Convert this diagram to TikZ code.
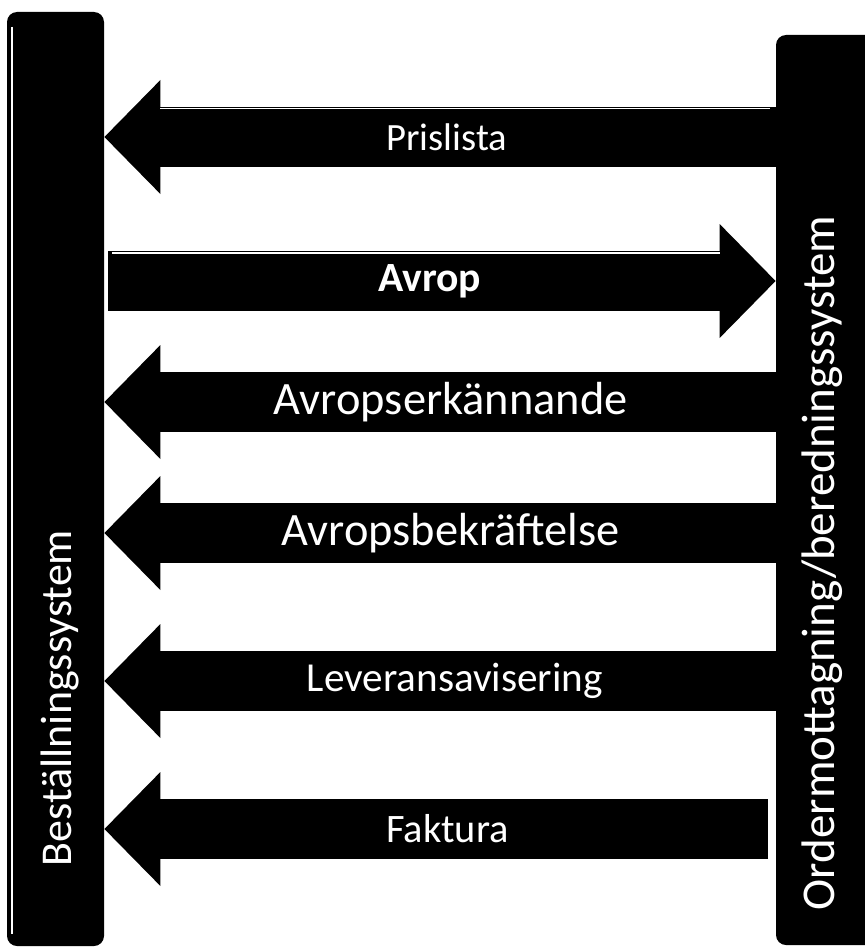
\documentclass[tikz,border=0pt]{standalone}
\usepackage{fontspec}
\setmainfont{Carlito}
\usetikzlibrary{arrows.meta}
\tikzset{
  sysbar/.style={fill=black, rounded corners=5pt, inner sep=0pt},
  systext/.style={text=white, font=\fontsize{22}{24}\selectfont, inner sep=0pt, rotate=90},
  msgarrow/.style={line width=30pt, -{Triangle[length=28pt, width=57pt, line width=0pt]}},
  msgtext/.style={text=white, font=\fontsize{20}{22}\selectfont, inner sep=0pt},
  bigtext/.style={msgtext, font=\fontsize{23.2}{26}\selectfont},
}
\begin{document}
\begin{tikzpicture}[x=0.5pt, y=-0.5pt]
        \useasboundingbox (0,0) rectangle (864,947);

        %systems
        \node[sysbar, minimum width=48.5pt, minimum height=467pt] (best) at (55.5,479) {};
        \node[sysbar, minimum width=52pt, minimum height=455pt] (order) at (828,490) {};
        \draw[white, line width=0.6pt] (12,27) -- (12,934);
        \node[systext] (bestname) at (60,698) {Beställningssystem};
        \node[systext, font=\fontsize{23.5}{26}\selectfont] (ordername) at (822,563) {Ordermottagning/beredningssystem};

        %free ends
        \coordinate (avropstart) at (108,281);
        \coordinate (faktstart) at (768,829);

        %messages
        \draw[msgarrow] (order.west |- 0,137) -- node[msgtext, pos=.49, font=\fontsize{19.3}{22}\selectfont] (prislista) {Prislista} (best.east |- 0,137);
        \draw[msgarrow] (avropstart) -- node[msgtext, pos=.482, font=\fontsize{20.8}{24}\selectfont\bfseries] (avrop) {Avrop} (order.west |- avropstart);
        \draw[msgarrow] (order.west |- 0,402) -- node[bigtext, pos=.484] (erk) {Avropserkännande} (best.east |- 0,402);
        \draw[msgarrow] (order.west |- 0,533) -- node[bigtext, pos=.484] (bekr) {Avropsbekräftelse} (best.east |- 0,533);
        \draw[msgarrow] (order.west |- 0,681) -- node[msgtext, pos=.478, font=\fontsize{20.6}{22}\selectfont] (lev) {Leveransavisering} (best.east |- 0,681);
        \draw[msgarrow] (faktstart) -- node[msgtext, pos=.483, font=\fontsize{20.2}{22}\selectfont] (faktura) {Faktura} (best.east |- faktstart);

        %edges
        \draw[white, line width=0.8pt] (160,108.5) -- (770,108.5);
        \draw[white, line width=1pt] (112,252.5) -- (720,252.5);

\end{tikzpicture}
\end{document}
